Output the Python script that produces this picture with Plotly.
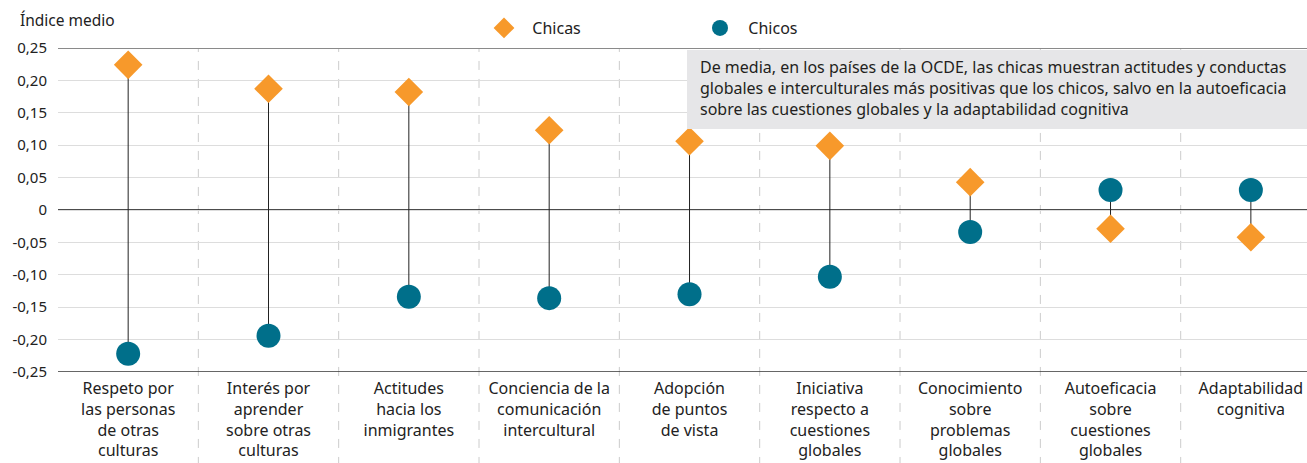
import plotly.graph_objects as go

categories = [
    "Respeto por<br>las personas<br>de otras<br>culturas",
    "Interés por<br>aprender<br>sobre otras<br>culturas",
    "Actitudes<br>hacia los<br>inmigrantes",
    "Conciencia de la<br>comunicación<br>intercultural",
    "Adopción<br>de puntos<br>de vista",
    "Iniciativa<br>respecto a<br>cuestiones<br>globales",
    "Conocimiento<br>sobre<br>problemas<br>globales",
    "Autoeficacia<br>sobre<br>cuestiones<br>globales",
    "Adaptabilidad<br>cognitiva",
]
chicas = [0.224, 0.187, 0.182, 0.123, 0.106, 0.099, 0.043, -0.029, -0.042]
chicos = [-0.222, -0.194, -0.134, -0.136, -0.130, -0.103, -0.034, 0.031, 0.031]
y_ticks = [0.25, 0.20, 0.15, 0.10, 0.05, 0, -0.05, -0.10, -0.15, -0.20, -0.25]
y_ticktext = ["0,25", "0,20", "0,15", "0,10", "0,05", "0", "-0,05", "-0,10", "-0,15", "-0,20", "-0,25"]

ORANGE = "#F7992B"
TEAL = "#006F8A"
FONT = "Noto Sans"

xs = list(range(len(categories)))

# connector lines
lx, ly = [], []
for i in xs:
    lx += [i, i, None]
    ly += [chicas[i], chicos[i], None]

fig = go.Figure()
fig.add_trace(go.Scatter(x=lx, y=ly, mode="lines", line=dict(color="#222222", width=1),
                         showlegend=False, hoverinfo="skip"))
fig.add_trace(go.Scatter(x=xs, y=chicas, mode="markers", name="\u00a0\u00a0Chicas",
                         marker=dict(symbol="diamond", size=22, color=ORANGE, line=dict(width=0)),
                         cliponaxis=False))
fig.add_trace(go.Scatter(x=xs, y=chicos, mode="markers", name="\u00a0\u00a0Chicos",
                         marker=dict(symbol="circle", size=24, color=TEAL, line=dict(width=0)),
                         cliponaxis=False))

shapes = []
# vertical dashed dividers
for i in range(len(categories) - 1):
    shapes.append(dict(type="line", xref="x", yref="paper", x0=i + 0.5, x1=i + 0.5,
                       y0=-0.29, y1=1, line=dict(color="#CCCCCC", width=1, dash="dash"),
                       layer="below"))
# top line
shapes.append(dict(type="line", xref="paper", yref="y", x0=0, x1=1, y0=0.25, y1=0.25,
                   line=dict(color="#8A8A8A", width=2), layer="above"))
# bottom line
shapes.append(dict(type="line", xref="paper", yref="y", x0=0, x1=1, y0=-0.25, y1=-0.25,
                   line=dict(color="#333333", width=1.5), layer="above"))
# zero line
shapes.append(dict(type="line", xref="paper", yref="y", x0=0, x1=1, y0=0, y1=0,
                   line=dict(color="#111111", width=1.3), layer="below"))
# annotation box
shapes.append(dict(type="rect", xref="paper", yref="paper", x0=(687 - 58) / 1249, x1=1,
                   y0=(372 - 129) / 324, y1=(372 - 50) / 324,
                   fillcolor="#E6E6E8", line=dict(width=0), layer="above"))

annotations = [
    dict(text="Índice medio", xref="paper", yref="paper", x=(18 - 58) / 1249, y=(372 - 20) / 324,
         xanchor="left", yanchor="middle", showarrow=False,
         font=dict(family=FONT, size=15.5, color="#222222")),
    dict(text="De media, en los países de la OCDE, las chicas muestran actitudes y conductas<br>"
              "globales e interculturales más positivas que los chicos, salvo en la autoeficacia<br>"
              "sobre las cuestiones globales y la adaptabilidad cognitiva",
         xref="paper", yref="paper", x=(698 - 58) / 1249, y=(372 - 88) / 324,
         xanchor="left", yanchor="middle", align="left", showarrow=False,
         font=dict(family=FONT, size=16, color="#231F20")),
]

fig.update_layout(
    width=1307, height=463,
    margin=dict(l=58, r=0, t=48, b=91, pad=0, autoexpand=False),
    paper_bgcolor="white", plot_bgcolor="white",
    font=dict(family=FONT, size=15, color="#222222"),
    showlegend=True,
    legend=dict(orientation="h", x=(484 - 58) / 1249, xanchor="left", y=(372 - 28) / 324,
                yanchor="middle", font=dict(family=FONT, size=16, color="#222222"),
                entrywidth=171, entrywidthmode="pixels", itemsizing="trace",
                bgcolor="rgba(0,0,0,0)"),
    shapes=shapes,
    annotations=annotations,
    xaxis=dict(range=[-0.5, 8.4], tickvals=xs, ticktext=categories, showgrid=False,
               zeroline=False, showline=False, ticks="", tickfont=dict(size=16),
               ticklabelstandoff=5, fixedrange=True),
    yaxis=dict(range=[-0.25, 0.25], tickvals=y_ticks, ticktext=y_ticktext, showgrid=True,
               gridcolor="#DDDDDD", gridwidth=1, zeroline=False, showline=False, ticks="",
               ticklabelstandoff=10, tickfont=dict(size=15), fixedrange=True),
)

fig.write_html("out.html", config={"displayModeBar": False},
               post_script="document.body.style.margin='0';document.body.style.overflow='hidden';")
